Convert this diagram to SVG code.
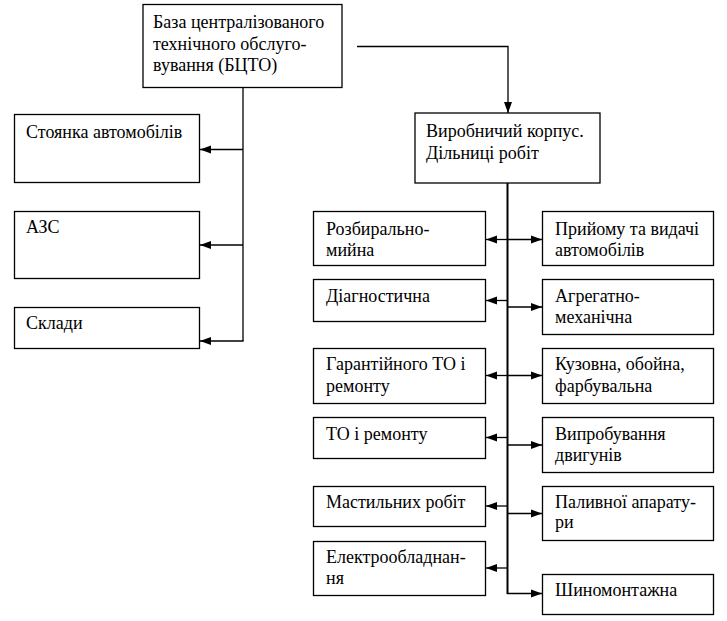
<svg xmlns="http://www.w3.org/2000/svg" width="727" height="621" viewBox="0 0 727 621">
<defs>
<marker id="a" markerUnits="userSpaceOnUse" markerWidth="12" markerHeight="10" refX="11" refY="5" orient="auto"><path d="M0,1 L11,5 L0,9 Z" fill="#000"/></marker>
</defs>
<rect width="727" height="621" fill="#fff"/>
<g fill="#fff" stroke="#000" stroke-width="1.3">
<rect x="143" y="4.5" width="199" height="83"/>
<rect x="14.5" y="114.5" width="185" height="68"/>
<rect x="14.5" y="211.5" width="185" height="67"/>
<rect x="14.5" y="307.5" width="185" height="41"/>
<rect x="415" y="113" width="185" height="70"/>
<rect x="313.5" y="211.5" width="172" height="54"/>
<rect x="313.5" y="279.5" width="172" height="42"/>
<rect x="313.5" y="348.5" width="172" height="55"/>
<rect x="313.5" y="417.5" width="172" height="41"/>
<rect x="313.5" y="486.5" width="172" height="40"/>
<rect x="313.5" y="541.5" width="172" height="54"/>
<rect x="542.5" y="211.5" width="171" height="54"/>
<rect x="542.5" y="279.5" width="171" height="55"/>
<rect x="542.5" y="348.5" width="171" height="55"/>
<rect x="542.5" y="417.5" width="171" height="55"/>
<rect x="542.5" y="486.5" width="171" height="54"/>
<rect x="542.5" y="574.5" width="171" height="40"/>
</g>
<text x="153" y="28" font-family="Times New Roman" font-size="18">База централізованого</text>
<text x="153" y="50" font-family="Times New Roman" font-size="18">технічного обслуго-</text>
<text x="153" y="71" font-family="Times New Roman" font-size="18">вування (БЦТО)</text>
<text x="26" y="138" font-family="Times New Roman" font-size="18">Стоянка автомобілів</text>
<text x="26" y="233" font-family="Times New Roman" font-size="18">АЗС</text>
<text x="26" y="329" font-family="Times New Roman" font-size="18">Склади</text>
<text x="426" y="137" font-family="Times New Roman" font-size="18">Виробничий корпус.</text>
<text x="426" y="159" font-family="Times New Roman" font-size="18">Дільниці робіт</text>
<text x="326" y="235" font-family="Times New Roman" font-size="18">Розбирально-</text>
<text x="326" y="256" font-family="Times New Roman" font-size="18">мийна</text>
<text x="326" y="302" font-family="Times New Roman" font-size="18">Діагностична</text>
<text x="326" y="370" font-family="Times New Roman" font-size="18">Гарантійного ТО і</text>
<text x="326" y="392" font-family="Times New Roman" font-size="18">ремонту</text>
<text x="326" y="440" font-family="Times New Roman" font-size="18">ТО і ремонту</text>
<text x="326" y="508" font-family="Times New Roman" font-size="18">Мастильних робіт</text>
<text x="326" y="563" font-family="Times New Roman" font-size="18">Електрообладнан-</text>
<text x="326" y="584" font-family="Times New Roman" font-size="18">ня</text>
<text x="555" y="235" font-family="Times New Roman" font-size="18">Прийому та видачі</text>
<text x="555" y="256" font-family="Times New Roman" font-size="18">автомобілів</text>
<text x="555" y="302" font-family="Times New Roman" font-size="18">Агрегатно-</text>
<text x="555" y="323" font-family="Times New Roman" font-size="18">механічна</text>
<text x="555" y="370" font-family="Times New Roman" font-size="18">Кузовна, обойна,</text>
<text x="555" y="392" font-family="Times New Roman" font-size="18">фарбувальна</text>
<text x="555" y="440" font-family="Times New Roman" font-size="18">Випробування</text>
<text x="555" y="461" font-family="Times New Roman" font-size="18">двигунів</text>
<text x="555" y="508" font-family="Times New Roman" font-size="18">Паливної апарату-</text>
<text x="555" y="528" font-family="Times New Roman" font-size="18">ри</text>
<text x="555" y="596" font-family="Times New Roman" font-size="18">Шиномонтажна</text>
<g id="connectors" stroke="#000" stroke-width="1.3" fill="none">
<path d="M357,46.5 H508 V113" marker-end="url(#a)"/>
<line x1="243" y1="87.5" x2="243" y2="341"/>
<line x1="243" y1="149.5" x2="200" y2="149.5" marker-end="url(#a)"/>
<line x1="243" y1="245" x2="200" y2="245" marker-end="url(#a)"/>
<line x1="243.6" y1="341" x2="200" y2="341" marker-end="url(#a)"/>
<line stroke-width="2" x1="507.5" y1="183" x2="507.5" y2="594"/>
<line x1="507" y1="239.5" x2="486" y2="239.5" marker-end="url(#a)"/>
<line x1="507" y1="239.5" x2="542" y2="239.5" marker-end="url(#a)"/>
<line x1="507" y1="300.5" x2="486" y2="300.5" marker-end="url(#a)"/>
<line x1="507" y1="307" x2="542" y2="307" marker-end="url(#a)"/>
<line x1="507" y1="375.5" x2="486" y2="375.5" marker-end="url(#a)"/>
<line x1="507" y1="375.5" x2="542" y2="375.5" marker-end="url(#a)"/>
<line x1="507" y1="437.5" x2="486" y2="437.5" marker-end="url(#a)"/>
<line x1="507" y1="445" x2="542" y2="445" marker-end="url(#a)"/>
<line x1="507" y1="506" x2="486" y2="506" marker-end="url(#a)"/>
<line x1="507" y1="513.5" x2="542" y2="513.5" marker-end="url(#a)"/>
<line x1="507" y1="568" x2="486" y2="568" marker-end="url(#a)"/>
<line x1="507" y1="593.5" x2="542" y2="593.5" marker-end="url(#a)"/>
</g>
</svg>
